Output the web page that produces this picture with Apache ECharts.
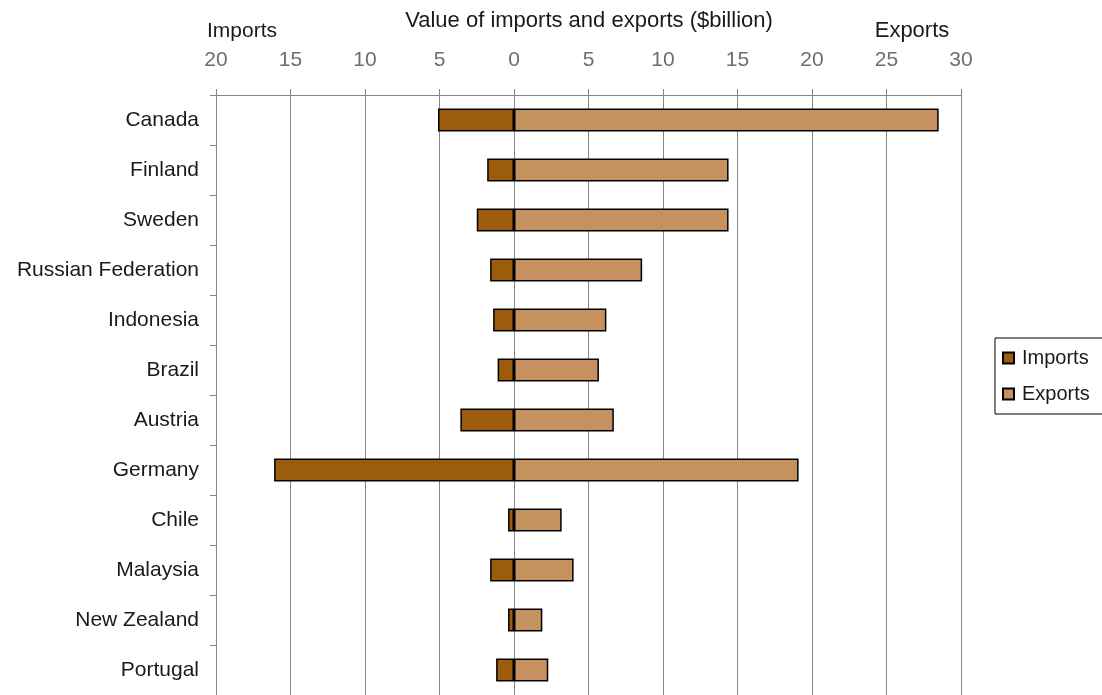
<!DOCTYPE html>
<html>
<head>
<meta charset="utf-8">
<script src="https://cdn.jsdelivr.net/npm/echarts@6/dist/echarts.min.js"></script>
<style>
  html, body { margin: 0; padding: 0; background: #fff; }
  #chart { width: 1102px; height: 695px; }
</style>
</head>
<body>
<div id="chart"></div>
<script>
// Trade in forest products by country ($billion)
const countries = ['Canada', 'Finland', 'Sweden', 'Russian Federation', 'Indonesia', 'Brazil',
                   'Austria', 'Germany', 'Chile', 'Malaysia', 'New Zealand', 'Portugal'];
const imports = [5.1, 1.8, 2.5, 1.6, 1.4, 1.1, 3.6, 16.1, 0.4, 1.6, 0.4, 1.2];
const exports = [28.5, 14.4, 14.4, 8.6, 6.2, 5.7, 6.7, 19.1, 3.2, 4.0, 1.9, 2.3];
const axisTicks = { min: -20, max: 30, step: 5 };

const FONT = '"Liberation Sans", Arial, sans-serif';
const GRID_GREY = '#858585';

const chart = echarts.init(document.getElementById('chart'), null, { renderer: 'canvas' });

chart.setOption({
  backgroundColor: '#ffffff',
  animation: false,
  textStyle: { fontFamily: FONT },
  title: [
    { text: 'Value of imports and exports ($billion)', left: 584, top: 5, textAlign: 'center',
      textStyle: { fontSize: 22, fontWeight: 'normal', color: '#1a1a1a', fontFamily: FONT } },
    { text: 'Imports', left: 202, top: 16,
      textStyle: { fontSize: 21, fontWeight: 'normal', color: '#1a1a1a', fontFamily: FONT } },
    { text: 'Exports', left: 907, top: 15, textAlign: 'center',
      textStyle: { fontSize: 22, fontWeight: 'normal', color: '#1a1a1a', fontFamily: FONT } }
  ],
  legend: {
    orient: 'vertical',
    left: 995,
    top: 338,
    data: ['Imports', 'Exports'],
    icon: 'rect',
    itemWidth: 11,
    itemHeight: 11,
    itemGap: 16,
    padding: [10, 30, 10, 7],
    borderColor: '#000',
    borderWidth: 1,
    textStyle: { fontSize: 20, color: '#1a1a1a', fontFamily: FONT, padding: [0, 0, 0, 3] }
  },
  grid: { left: 216, right: 141, top: 95, height: 603, containLabel: false },
  xAxis: {
    type: 'value',
    position: 'top',
    min: axisTicks.min,
    max: axisTicks.max,
    interval: axisTicks.step,
    axisLine: { show: true, lineStyle: { color: GRID_GREY, width: 1 } },
    axisTick: { show: true, inside: false, length: 6, lineStyle: { color: GRID_GREY } },
    axisLabel: {
      margin: 24,
      fontSize: 21,
      color: '#6e6e6e',
      fontFamily: FONT,
      formatter: v => String(Math.abs(v))
    },
    splitLine: { show: true, lineStyle: { color: GRID_GREY, width: 1 } }
  },
  yAxis: {
    type: 'category',
    inverse: true,
    data: countries,
    axisLine: { show: true, onZero: false, lineStyle: { color: GRID_GREY, width: 1 } },
    axisTick: { show: true, inside: false, length: 6, lineStyle: { color: GRID_GREY } },
    axisLabel: { margin: 17, fontSize: 21, color: '#1a1a1a', fontFamily: FONT },
    splitLine: { show: false }
  },
  series: [
    {
      name: 'Imports',
      type: 'bar',
      stack: 'trade',
      barWidth: 23,
      data: imports.map(v => -v),
      itemStyle: { color: '#9b5c0c', borderColor: '#000', borderWidth: 1.5 }
    },
    {
      name: 'Exports',
      type: 'bar',
      stack: 'trade',
      barWidth: 23,
      data: exports,
      itemStyle: { color: '#c4915f', borderColor: '#000', borderWidth: 1.5 }
    }
  ]
});
</script>
</body>
</html>
